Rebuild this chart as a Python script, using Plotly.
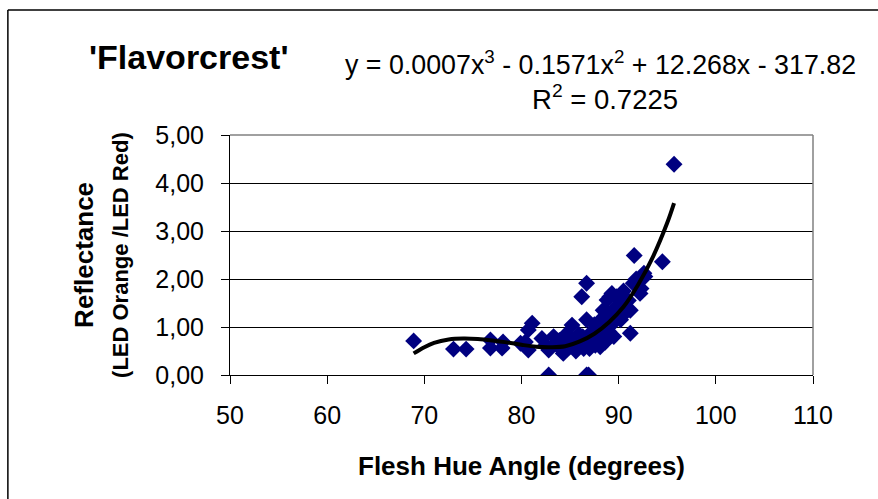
import plotly.graph_objects as go

# Scatter data (Flesh Hue Angle vs Reflectance ratio)
hue_angle = [68.9, 73.0, 74.3, 76.8, 76.8, 78.1, 78.0, 79.9, 80.4, 80.7, 80.7, 81.1,
             82.1, 82.5, 82.8, 82.8, 83.3, 83.6, 84.0, 84.3, 84.7, 85.0, 85.2, 85.4,
             85.6, 85.9, 86.0, 86.2, 86.4, 86.7, 86.7, 86.7, 86.9, 87.1, 87.2, 87.5,
             87.6, 87.8, 88.1, 88.1, 88.3, 88.4, 88.4, 88.6, 88.8, 88.8, 89.0, 89.1,
             89.1, 89.3, 89.5, 89.5, 89.8, 90.0, 90.2, 90.2, 90.8, 91.2, 91.2, 91.5,
             91.6, 92.2, 92.6, 92.7, 92.3, 94.5, 95.7,
             83.9, 84.6, 86.3, 87.0, 88.9, 89.7, 90.5, 91.0, 91.8]
reflectance = [0.71, 0.54, 0.54, 0.73, 0.56, 0.69, 0.56, 0.66, 0.69, 0.52, 0.94, 1.08,
               0.76, 0.62, 0.52, 0.00, 0.80, 0.66, 0.55, 0.45, 0.72, 0.60, 1.04, 0.73,
               0.50, 0.85, 0.62, 1.63, 0.55, 1.91, 1.15, 0.00, 0.00, 0.87, 0.70, 1.05,
               0.62, 0.95, 0.59, 1.00, 0.78, 1.20, 1.35, 0.68, 1.00, 1.56, 0.90, 0.80,
               1.63, 1.70, 0.80, 1.10, 1.63, 1.25, 1.56, 1.15, 1.32, 0.87, 1.35, 1.91,
               2.49, 1.70, 2.12, 2.05, 1.80, 2.36, 4.39,
               0.72, 0.85, 0.80, 0.55, 1.30, 1.40, 1.75, 1.55, 2.00]

# Polynomial trendline
trend_x = [68.9, 70.0, 71.0, 72.5, 74.0, 75.5, 77.0, 78.5, 80.0, 81.5, 83.0, 84.5,
           86.0, 87.5, 89.0, 90.5, 92.0, 93.5, 95.0, 95.7]
trend_y = [0.45, 0.58, 0.67, 0.74, 0.76, 0.75, 0.72, 0.68, 0.63, 0.59, 0.58, 0.60,
           0.70, 0.86, 1.10, 1.42, 1.88, 2.45, 3.17, 3.58]

x_ticks = [50, 60, 70, 80, 90, 100, 110]
y_ticks = [0, 1, 2, 3, 4, 5]
y_tick_text = ["0,00", "1,00", "2,00", "3,00", "4,00", "5,00"]

FONT = "Liberation Sans, Arial, sans-serif"

fig = go.Figure()
fig.add_trace(go.Scatter(
    x=hue_angle, y=reflectance, mode="markers",
    marker=dict(symbol="diamond", size=13, color="#000080",
                line=dict(width=0)),
    showlegend=False, hoverinfo="skip"))
fig.add_trace(go.Scatter(
    x=trend_x, y=trend_y, mode="lines",
    line=dict(color="black", width=4, shape="spline", smoothing=1.0),
    showlegend=False, hoverinfo="skip"))

fig.update_layout(
    width=878, height=499,
    margin=dict(l=230, r=65, t=135, b=124),
    paper_bgcolor="white", plot_bgcolor="white",
    font=dict(family=FONT, color="black", size=24),
    xaxis=dict(range=[50, 110], tickvals=x_ticks, ticks="outside", ticklen=8,
               tickcolor="black", showline=True, linecolor="black", linewidth=1,
               showgrid=False, zeroline=False, tickfont=dict(size=25),
               ticklabelstandoff=10),
    yaxis=dict(range=[0, 5], tickvals=y_ticks, ticktext=y_tick_text,
               ticks="outside", ticklen=8, tickcolor="black", showline=True,
               linecolor="black", linewidth=1, showgrid=True, gridcolor="black",
               gridwidth=1, zeroline=False, tickfont=dict(size=25),
               ticklabelstandoff=12),
    shapes=[
        dict(type="line", xref="paper", yref="paper", x0=0, x1=1, y0=1, y1=1,
             line=dict(color="#808080", width=1.5), layer="above"),
        dict(type="line", xref="paper", yref="paper", x0=1, x1=1, y0=0, y1=1,
             line=dict(color="#808080", width=1.5), layer="above"),
        # outer chart frame (only top and left edges are visible in the crop)
        dict(type="line", xref="paper", yref="paper", x0=-0.381, x1=1.2,
             y0=1.521, y1=1.521, line=dict(color="black", width=1.5)),
        dict(type="line", xref="paper", yref="paper", x0=-0.381, x1=-0.381,
             y0=-0.6, y1=1.521, line=dict(color="black", width=1.5)),
    ],
    annotations=[
        dict(text="<b>'Flavorcrest'</b>", xref="paper", yref="paper",
             x=-0.2454, y=1.325, xanchor="left", yanchor="middle",
             showarrow=False, font=dict(size=34)),
        dict(text="y = 0.0007x<sup>3</sup> - 0.1571x<sup>2</sup> + 12.268x - 317.82",
             xref="paper", yref="paper", x=0.635, y=1.30, xanchor="center",
             yanchor="middle", showarrow=False, font=dict(size=26.8)),
        dict(text="R<sup>2</sup> = 0.7225", xref="paper", yref="paper",
             x=0.644, y=1.158, xanchor="center", yanchor="middle",
             showarrow=False, font=dict(size=27.5)),
        dict(text="<b>Flesh Hue Angle (degrees)</b>", xref="paper", yref="paper",
             x=0.5, y=-0.379, xanchor="center", yanchor="middle",
             showarrow=False, font=dict(size=26)),
        dict(text="<b>Reflectance</b>", xref="paper", yref="paper",
             x=-0.2506, y=0.5, xanchor="center", yanchor="middle", textangle=-90,
             showarrow=False, font=dict(size=26)),
        dict(text="<b>(LED Orange /LED Red)</b>", xref="paper", yref="paper",
             x=-0.1888, y=0.5, xanchor="center", yanchor="middle", textangle=-90,
             showarrow=False, font=dict(size=22)),
    ],
)

fig.write_html("out.html")
